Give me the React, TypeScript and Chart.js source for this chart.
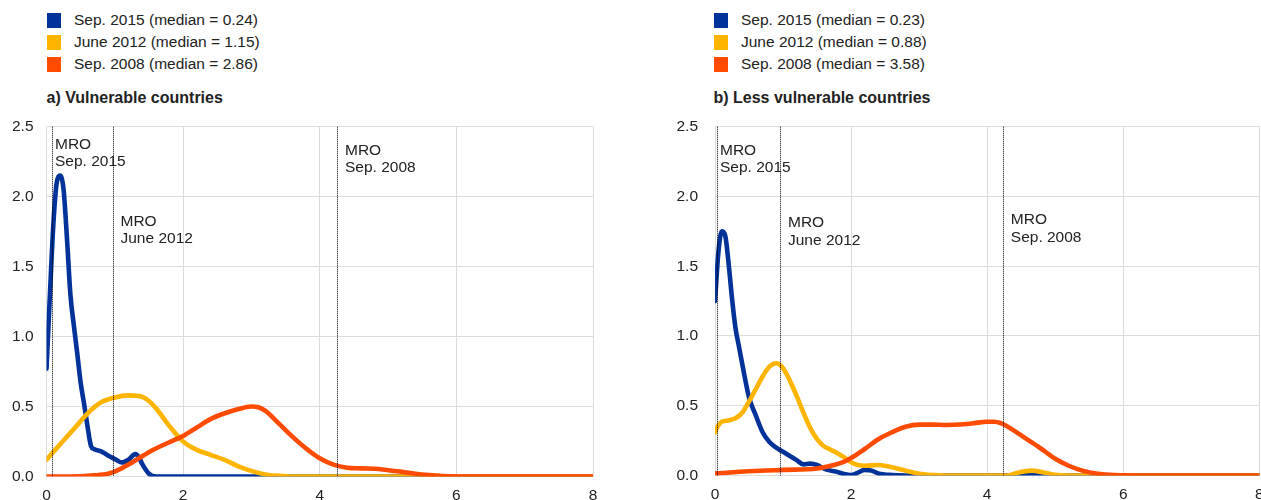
import React, { useEffect, useRef } from "react";
import { Chart, registerables } from "chart.js";

Chart.register(...registerables);

// ---------- data ----------
const seriesNames = ["Sep. 2015", "June 2012", "Sep. 2008"];
const seriesColors = ["#003299", "#FFB400", "#FF4B00"];

const aTitle = "a) Vulnerable countries";
const bTitle = "b) Less vulnerable countries";
const aMedians = ["0.24", "1.15", "2.86"];
const bMedians = ["0.23", "0.88", "3.58"];

const xTicks = [0, 2, 4, 6, 8];
const yTicks = [0, 0.5, 1, 1.5, 2, 2.5];

// Panel a) Vulnerable countries
const aX2015 = [0, 0.05, 0.1, 0.15, 0.2, 0.25, 0.3, 0.35, 0.4, 0.45, 0.5, 0.55, 0.6, 0.65, 0.7, 0.8, 0.9, 1.0, 1.1, 1.2, 1.3, 1.35, 1.4, 1.5, 1.6, 2, 4, 6, 8];
const aY2015 = [0.77, 1.3, 1.8, 2.1, 2.15, 2.05, 1.7, 1.3, 1.08, 0.88, 0.67, 0.52, 0.36, 0.22, 0.195, 0.18, 0.15, 0.125, 0.1, 0.12, 0.16, 0.14, 0.09, 0.02, 0, 0, 0, 0, 0];

const aX2012 = [0, 0.2, 0.4, 0.6, 0.8, 1.0, 1.2, 1.4, 1.5, 1.6, 1.8, 2.0, 2.2, 2.4, 2.6, 2.8, 3.0, 3.2, 3.4, 3.6, 4, 6, 8];
const aY2012 = [0.12, 0.23, 0.34, 0.45, 0.53, 0.565, 0.58, 0.57, 0.54, 0.49, 0.36, 0.25, 0.19, 0.155, 0.12, 0.075, 0.04, 0.015, 0.005, 0, 0, 0, 0];

const aX2008 = [0, 0.5, 0.7, 0.9, 1.0, 1.2, 1.4, 1.6, 1.8, 2.0, 2.2, 2.4, 2.6, 2.8, 3.0, 3.1, 3.2, 3.4, 3.6, 3.8, 4.0, 4.2, 4.4, 4.6, 4.8, 5.0, 5.2, 5.4, 5.6, 5.8, 6.0, 8];
const aY2008 = [0, 0.002, 0.008, 0.02, 0.035, 0.085, 0.145, 0.2, 0.245, 0.29, 0.35, 0.41, 0.45, 0.48, 0.5, 0.495, 0.47, 0.38, 0.285, 0.2, 0.13, 0.085, 0.063, 0.058, 0.055, 0.045, 0.034, 0.02, 0.01, 0.003, 0, 0];

const aMro = [0.08, 0.97, 4.25];

// Panel b) Less vulnerable countries
const bX2015 = [0, 0.05, 0.1, 0.15, 0.2, 0.25, 0.3, 0.35, 0.4, 0.5, 0.6, 0.7, 0.8, 0.9, 1.0, 1.1, 1.2, 1.3, 1.4, 1.5, 1.6, 1.7, 1.8, 1.9, 2.0, 2.1, 2.2, 2.3, 2.4, 2.6, 2.8, 4.4, 4.6, 4.8, 6, 8];
const bY2015 = [1.25, 1.6, 1.75, 1.72, 1.52, 1.27, 1.06, 0.93, 0.8, 0.56, 0.43, 0.31, 0.24, 0.2, 0.17, 0.14, 0.11, 0.08, 0.085, 0.075, 0.05, 0.035, 0.025, 0.01, 0.003, 0.02, 0.04, 0.035, 0.015, 0.003, 0, 0, 0.012, 0, 0, 0];

const bX2012 = [0, 0.05, 0.1, 0.2, 0.3, 0.4, 0.5, 0.6, 0.7, 0.8, 0.9, 1.0, 1.1, 1.2, 1.3, 1.4, 1.5, 1.6, 1.7, 1.8, 1.9, 2.0, 2.1, 2.2, 2.4, 2.6, 2.8, 3.0, 3.2, 3.4, 4.3, 4.45, 4.65, 4.85, 5.0, 5.2, 6, 8];
const bY2012 = [0.31, 0.36, 0.385, 0.395, 0.41, 0.45, 0.53, 0.62, 0.71, 0.78, 0.805, 0.77, 0.68, 0.57, 0.45, 0.34, 0.26, 0.21, 0.185, 0.16, 0.13, 0.095, 0.075, 0.07, 0.075, 0.06, 0.035, 0.012, 0.003, 0, 0, 0.02, 0.035, 0.02, 0.005, 0, 0, 0];

const bX2008 = [0, 0.5, 1.0, 1.5, 1.7, 1.9, 2.0, 2.2, 2.4, 2.6, 2.8, 3.0, 3.2, 3.4, 3.6, 3.8, 4.0, 4.1, 4.2, 4.4, 4.6, 4.8, 5.0, 5.2, 5.4, 5.6, 5.8, 6.0, 6.5, 8];
const bY2008 = [0.015, 0.03, 0.04, 0.05, 0.07, 0.1, 0.125, 0.19, 0.26, 0.31, 0.35, 0.365, 0.365, 0.362, 0.365, 0.375, 0.385, 0.385, 0.375, 0.32, 0.255, 0.19, 0.12, 0.07, 0.035, 0.015, 0.005, 0.002, 0, 0];

const bMro = [0.035, 0.96, 4.23];

const mroLabels = [["MRO", "Sep. 2015"], ["MRO", "June 2012"], ["MRO", "Sep. 2008"]];

// ---------- styling ----------
const FONT = '"Liberation Sans", Arial, Helvetica, sans-serif';
const FONT_SIZE = 15.5;
const TEXT = "#222222";
const GRID = "#dcdcdc";
const CLEAR = "rgba(0,0,0,0)";

type PanelCfg = {
  title: string;
  medians: string[];
  xs: number[][];
  ys: number[][];
  mro: number[];
  mroLabelY: number[];
  mroLabelDx: number[];
  left: number;
  canvasW: number;
  yAxisW: number;
  yGap: number;
  padTop: number;
  padRight: number;
  xAxisH: number;
  legendLeft: number;
};

const panels: PanelCfg[] = [
  {
    title: aTitle,
    medians: aMedians,
    xs: [aX2015, aX2012, aX2008],
    ys: [aY2015, aY2012, aY2008],
    mro: aMro,
    mroLabelY: [2.37, 1.82, 2.33],
    mroLabelDx: [2.5, 7, 7.5],
    left: 0,
    canvasW: 630,
    yAxisW: 46.5,
    yGap: 13,
    padTop: 11.7,
    padRight: 37,
    xAxisH: 23.5,
    legendLeft: 46.5,
  },
  {
    title: bTitle,
    medians: bMedians,
    xs: [bX2015, bX2012, bX2008],
    ys: [bY2015, bY2012, bY2008],
    mro: bMro,
    mroLabelY: [2.33, 1.81, 1.83],
    mroLabelDx: [2.5, 7.5, 7.3],
    left: 630,
    canvasW: 640,
    yAxisW: 85,
    yGap: 17,
    padTop: 11.7,
    padRight: 10.7,
    xAxisH: 24.5,
    legendLeft: 713.5,
  },
];

const CANVAS_TOP = 115;
const CANVAS_H = 385;

function Panel({ cfg }: { cfg: PanelCfg }) {
  const ref = useRef<HTMLCanvasElement | null>(null);

  useEffect(() => {
    if (!ref.current) return;
    const mroPlugin = {
      id: "mroLines",
      afterDatasetsDraw(chart: any) {
        const { ctx, chartArea, scales } = chart;
        ctx.save();
        cfg.mro.forEach((v, i) => {
          const x = Math.round(scales.x.getPixelForValue(v)) + 0.5;
          ctx.beginPath();
          ctx.setLineDash([1, 1]);
          ctx.lineWidth = 1;
          ctx.strokeStyle = "#000000";
          ctx.moveTo(x, chartArea.top);
          ctx.lineTo(x, chartArea.bottom);
          ctx.stroke();
          ctx.setLineDash([]);
          ctx.font = `${FONT_SIZE}px ${FONT}`;
          ctx.fillStyle = TEXT;
          ctx.textBaseline = "middle";
          ctx.textAlign = "left";
          const ly = scales.y.getPixelForValue(cfg.mroLabelY[i]);
          const lx = x + cfg.mroLabelDx[i];
          mroLabels[i].forEach((t, j) => ctx.fillText(t, lx, ly + j * 17.3));
        });
        ctx.restore();
      },
    };

    // draw order: index 0 is drawn last (on top) -> orange, yellow, blue
    const order = [2, 1, 0];
    const datasets = order.map((k) => ({
      label: seriesNames[k],
      data: cfg.xs[k].map((x, i) => ({ x, y: cfg.ys[k][i] })),
      borderColor: seriesColors[k],
      backgroundColor: seriesColors[k],
      borderWidth: 4.6,
      pointRadius: 0,
      pointHoverRadius: 0,
      fill: false,
      cubicInterpolationMode: "monotone" as const,
      borderCapStyle: "round" as const,
      borderJoinStyle: "round" as const,
    }));

    const tickFont = { family: FONT, size: FONT_SIZE };

    const chart = new Chart(ref.current, {
      type: "line",
      data: { datasets },
      options: {
        animation: false,
        responsive: false,
        maintainAspectRatio: false,
        layout: { padding: { top: cfg.padTop, right: cfg.padRight, left: 0, bottom: 0 } },
        plugins: { legend: { display: false }, tooltip: { enabled: false } },
        scales: {
          x: {
            type: "linear",
            min: 0,
            max: 8,
            afterBuildTicks: (s: any) => {
              s.ticks = xTicks.map((v) => ({ value: v }));
            },
            afterFit: (s: any) => {
              s.height = cfg.xAxisH;
            },
            grid: { color: GRID, lineWidth: 1, drawTicks: true, tickLength: 10, tickColor: CLEAR },
            border: { display: false },
            ticks: { padding: 0, color: TEXT, font: tickFont, maxRotation: 0, autoSkip: false },
          },
          y: {
            type: "linear",
            min: 0,
            max: 2.5,
            afterBuildTicks: (s: any) => {
              s.ticks = yTicks.map((v) => ({ value: v }));
            },
            afterFit: (s: any) => {
              s.width = cfg.yAxisW;
            },
            grid: { color: GRID, lineWidth: 1, drawTicks: true, tickLength: cfg.yGap, tickColor: CLEAR },
            border: { display: false },
            ticks: {
              padding: 0,
              color: TEXT,
              font: tickFont,
              autoSkip: false,
              callback: (v: any) => Number(v).toFixed(1),
            },
          },
        },
      },
      plugins: [mroPlugin],
    });
    return () => chart.destroy();
  }, []);

  return (
    <>
      {seriesNames.map((name, i) => (
        <div
          key={name}
          style={{
            position: "absolute",
            left: cfg.legendLeft,
            top: 9 + i * 22,
            height: 22,
            lineHeight: "22px",
            fontFamily: FONT,
            fontSize: FONT_SIZE,
            color: TEXT,
            whiteSpace: "nowrap",
          }}
        >
          <span
            style={{
              position: "absolute",
              left: 0,
              top: 4,
              width: 14,
              height: 14.5,
              background: seriesColors[i],
            }}
          />
          <span style={{ position: "absolute", left: 27.5, top: 0 }}>
            {`${name} (median = ${cfg.medians[i]})`}
          </span>
        </div>
      ))}
      <div
        style={{
          position: "absolute",
          left: cfg.legendLeft,
          top: 86.7,
          lineHeight: "22px",
          fontFamily: FONT,
          fontSize: 16,
          fontWeight: "bold",
          color: TEXT,
          whiteSpace: "nowrap",
        }}
      >
        {cfg.title}
      </div>
      <canvas
        ref={ref}
        width={cfg.canvasW}
        height={CANVAS_H}
        style={{
          position: "absolute",
          left: cfg.left,
          top: CANVAS_TOP,
          width: cfg.canvasW,
          height: CANVAS_H,
        }}
      />
    </>
  );
}

export default function App() {
  return (
    <div
      style={{
        position: "fixed",
        left: 0,
        top: 0,
        width: 1261,
        height: 500,
        overflow: "hidden",
        background: "#ffffff",
      }}
    >
      {panels.map((p) => (
        <Panel key={p.title} cfg={p} />
      ))}
    </div>
  );
}
